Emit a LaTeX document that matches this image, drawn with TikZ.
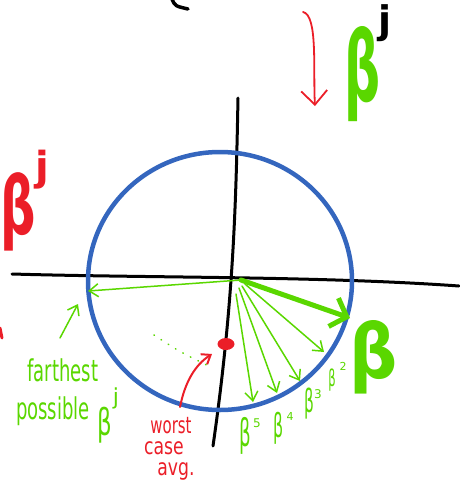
\documentclass[tikz,border=0pt]{standalone}
\usepackage{fontspec}
\setmainfont{DejaVu Sans}
\usetikzlibrary{arrows.meta,shapes.geometric}
\definecolor{hg}{RGB}{90,215,0}
\definecolor{hr}{RGB}{235,30,40}
\definecolor{hb}{RGB}{52,102,190}
\newcommand\fs[1]{\fontsize{#1}{#1}\selectfont}
\begin{document}
\begin{tikzpicture}[x=1pt,y=-1pt,line cap=round,line join=round,
  ax/.style={black,line width=3pt},
  gar/.style={hg,line width=1.5pt,-{Straight Barb[length=9pt,width=13pt,line width=1.5pt]}},
  lbl/.style={inner sep=0pt,outer sep=0pt}]
\useasboundingbox (0,0) rectangle (459,483);
% axes
\coordinate (xl) at (12,274);
\coordinate (xr) at (459,286);
\coordinate (yt) at (238,98);
\coordinate (yb) at (213,446);
\draw[ax] (xl) .. controls (150,278) and (320,276) .. (xr);
\draw[ax] (yt) .. controls (236,200) and (234,300) .. (yb);
% circle
\draw[hb,line width=4.5pt] (220,281) ellipse [x radius=132pt,y radius=129pt];
% top-left black stroke
\coordinate (pa) at (172,-1);
\coordinate (pb) at (188,9);
\draw[black,line width=3.5pt] (pa) .. controls (175,6) .. (pb);
% red tick at left edge
\coordinate (ta) at (0,328);
\coordinate (tb) at (2,338);
\draw[hr,line width=3pt] (ta) -- (tb);
% top right beta^j and red arrow
\node[lbl,text=hg] (bt) at (363,74) {\scalebox{0.52}[1]{\fs{97}\bfseries β}};
\node[lbl,text=black] (jt) at (385,23) {\fs{38}\bfseries j};
\coordinate (ra1) at (303,12);
\coordinate (ra2) at (315,106);
\draw[hr,line width=1.8pt,-{Straight Barb[length=14pt,width=26pt,line width=1.8pt]}]
  (ra1) .. controls (318,15) and (313,70) .. (ra2);
% left red beta^j
\node[lbl,text=hr] (bl) at (18,212) {\scalebox{0.62}[1]{\fs{80}\bfseries β}};
\node[lbl,text=hr] (jl) at (42,170) {\fs{40}\bfseries j};
% green vectors
\coordinate (O) at (241,280);
\coordinate (L) at (88,291);
\coordinate (B) at (350,318);
\coordinate (O2) at (245,284);
\coordinate (O3) at (242,286);
\coordinate (O4) at (239,288);
\coordinate (O5) at (236,294);
\coordinate (b2) at (324,352);
\coordinate (b3) at (300,381);
\coordinate (b4) at (277,393);
\coordinate (b5) at (253,402);
\draw[gar] (O) -- (L);
\draw[hg,line width=5pt,-{Straight Barb[length=14pt,width=30pt,line width=5pt]}] (O) -- (B);
\draw[gar] (O2) -- (b2);
\draw[gar] (O3) -- (b3);
\draw[gar] (O4) -- (b4);
\draw[gar] (O5) -- (b5);
% labels of vectors
\node[lbl,text=hg] (bb) at (374,357) {\scalebox{0.9}[1]{\fs{75}\bfseries β}};
\node[lbl,text=hg] (l5) at (245,436) {\scalebox{0.48}[1]{\fs{38}β}};
\node[lbl,text=hg] (s5) at (257,423) {\fs{12}5};
\node[lbl,text=hg] (l4) at (279,428) {\scalebox{0.48}[1]{\fs{33}β}};
\node[lbl,text=hg] (s4) at (290,416) {\fs{11}4};
\node[lbl,text=hg] (l3) at (309,404) {\scalebox{0.48}[1]{\fs{32}β}};
\node[lbl,text=hg] (s3) at (318,394) {\fs{12}3};
\node[lbl,text=hg] (l2) at (332,380) {\scalebox{0.5}[1]{\fs{23}β}};
\node[lbl,text=hg] (s2) at (343,366) {\fs{11}2};
% farthest possible
\node[lbl,text=hg,anchor=base] (far) at (63,381) {\scalebox{0.6}[1]{\fs{30}farthest}};
\node[lbl,text=hg,anchor=base] (pos) at (53,419) {\scalebox{0.6}[1]{\fs{30}possible}};
\node[lbl,text=hg] (pb1) at (105,425) {\scalebox{0.62}[1]{\fs{37}β}};
\node[lbl,text=hg] (pj) at (116,398) {\fs{22}j};
\coordinate (fa) at (60,338);
\coordinate (fb) at (78,304);
\draw[gar] (fa) -- (fb);
% dotted line
\coordinate (da) at (154,335);
\coordinate (db) at (213,368);
\draw[hg,line width=1.6pt,dash pattern=on 0.5pt off 8pt] (da) .. controls (180,352) .. (db);
% worst case
\node[lbl,fill=hr,ellipse,minimum width=17pt,minimum height=12pt] (dot) at (226,344) {};
\coordinate (wa) at (180,407);
\coordinate (wb) at (212,354);
\draw[hr,line width=2pt,-{Straight Barb[length=8pt,width=12pt,line width=2pt]}]
  (wa) .. controls (185,382) and (195,365) .. (wb);
\node[lbl,text=hr,anchor=base] (w1) at (171,433) {\scalebox{0.65}[1]{\fs{23}worst}};
\node[lbl,text=hr,anchor=base] (w2) at (164,454) {\scalebox{0.75}[1]{\fs{23}case}};
\node[lbl,text=hr,anchor=base] (w3) at (176,475) {\scalebox{0.75}[1]{\fs{23}avg.}};
\end{tikzpicture}
\end{document}
